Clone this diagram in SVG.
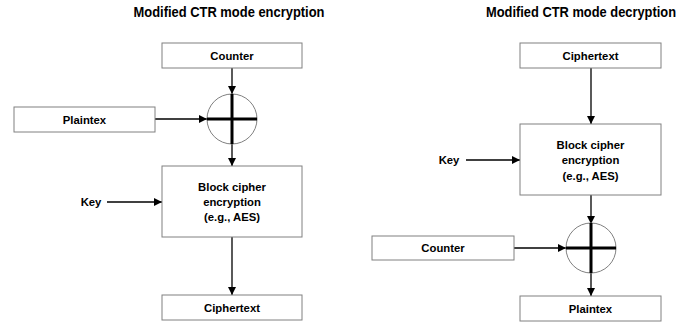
<svg xmlns="http://www.w3.org/2000/svg" width="696" height="322" viewBox="0 0 696 322">
<defs>
<marker id="ah" viewBox="0 0 10 10" refX="10" refY="5" markerWidth="8" markerHeight="8" markerUnits="userSpaceOnUse" orient="auto">
<path d="M0,0 L10,5 L0,10 z" fill="#000"/>
</marker>
</defs>
<style>
.box{fill:#fff;stroke:#808080;stroke-width:1}
.xor{fill:#fff;stroke:#808080;stroke-width:1}
.cross{stroke:#000;stroke-width:3}
.t{font-family:"Liberation Sans",Arial,sans-serif;font-weight:bold;font-size:11.3px;fill:#000;text-anchor:middle}
.title{font-family:"Liberation Sans",Arial,sans-serif;font-weight:bold;font-size:13.8px;fill:#000;text-anchor:middle}
.c{stroke:#000;stroke-width:1.3;fill:none;marker-end:url(#ah)}
</style>
<rect width="696" height="322" fill="#fff"/>
<text class="title" x="229" y="16.7" textLength="191" lengthAdjust="spacingAndGlyphs">Modified CTR mode encryption</text>
<text class="title" x="581" y="16.7" textLength="190" lengthAdjust="spacingAndGlyphs">Modified CTR mode decryption</text>
<g id="connectors">
<line class="c" x1="232" y1="68" x2="232" y2="94"/>
<line class="c" x1="155" y1="119" x2="207" y2="119"/>
<line class="c" x1="232" y1="144" x2="232" y2="166"/>
<line class="c" x1="107" y1="202" x2="162" y2="202"/>
<line class="c" x1="232" y1="237" x2="232" y2="295"/>
<line class="c" x1="591" y1="68" x2="591" y2="124"/>
<line class="c" x1="466" y1="160" x2="520" y2="160"/>
<line class="c" x1="591" y1="195" x2="591" y2="224"/>
<line class="c" x1="514" y1="248" x2="566" y2="248"/>
<line class="c" x1="591" y1="273" x2="591" y2="296"/>
</g>
<g id="enc-counter"><rect class="box" x="162" y="43" width="140" height="25"/><text class="t" x="232" y="59.5">Counter</text></g>
<g id="enc-xor"><circle class="xor" cx="232" cy="119" r="25"/><line class="cross" x1="232" y1="94" x2="232" y2="144"/><line class="cross" x1="207" y1="119" x2="257" y2="119"/></g>
<g id="enc-plaintext"><rect class="box" x="14" y="107" width="141" height="25"/><text class="t" x="84.5" y="123.5">Plaintex</text></g>
<g id="enc-block"><rect class="box" x="162" y="166" width="140" height="71"/><text class="t" x="232" y="190.5">Block cipher</text><text class="t" x="232" y="206">encryption</text><text class="t" x="232" y="221">(e.g., AES)</text></g>
<g id="enc-key"><text class="t" x="91" y="206">Key</text></g>
<g id="enc-ciphertext"><rect class="box" x="162" y="295" width="140" height="25"/><text class="t" x="232" y="311.5">Ciphertext</text></g>
<g id="dec-ciphertext"><rect class="box" x="520" y="43" width="141" height="25"/><text class="t" x="590.5" y="59.5">Ciphertext</text></g>
<g id="dec-block"><rect class="box" x="520" y="124" width="141" height="71"/><text class="t" x="590.5" y="149">Block cipher</text><text class="t" x="590.5" y="164">encryption</text><text class="t" x="590.5" y="179.5">(e.g., AES)</text></g>
<g id="dec-key"><text class="t" x="449" y="164">Key</text></g>
<g id="dec-xor"><circle class="xor" cx="591" cy="248" r="25"/><line class="cross" x1="591" y1="223" x2="591" y2="273"/><line class="cross" x1="566" y1="248" x2="616" y2="248"/></g>
<g id="dec-counter"><rect class="box" x="372" y="236" width="142" height="24"/><text class="t" x="443" y="252">Counter</text></g>
<g id="dec-plaintext"><rect class="box" x="520" y="296" width="141" height="25"/><text class="t" x="590.5" y="312.5">Plaintex</text></g>
</svg>
